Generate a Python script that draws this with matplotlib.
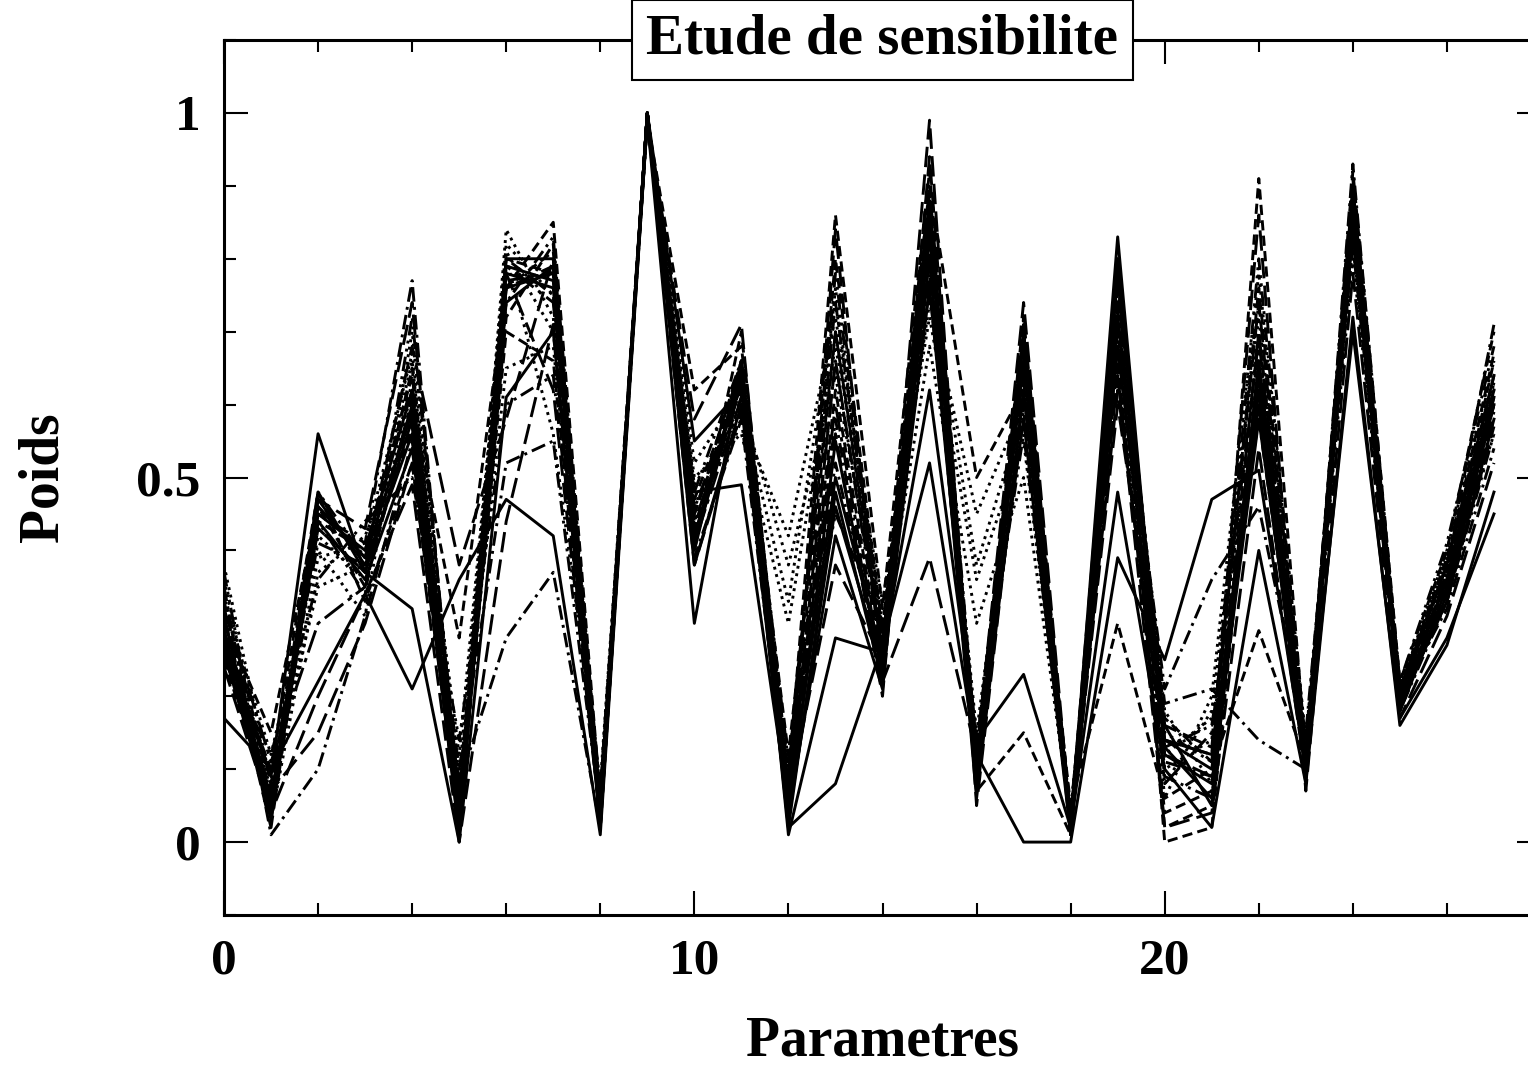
import numpy as np
import matplotlib
matplotlib.use('Agg')
import matplotlib.pyplot as plt
from matplotlib.ticker import MultipleLocator, FuncFormatter

plt.rcParams['font.family'] = ['Liberation Serif', 'DejaVu Serif']
plt.rcParams['font.weight'] = 'bold'

# parameter index 0..27
params = list(range(28))

# one run per sensitivity case (weights)
run01 = [0.29,0.05,0.48,0.37,0.58,0.02,0.80,0.80,0.04,1.00,0.40,0.66,0.03,0.46,0.24,0.84,0.09,0.70,0.01,0.78,0.14,0.10,0.64,0.10,0.88,0.19,0.36,0.62]
run02 = [0.27,0.09,0.56,0.37,0.32,0.00,0.61,0.70,0.02,1.00,0.55,0.62,0.02,0.08,0.27,0.52,0.12,0.00,0.00,0.39,0.25,0.47,0.51,0.10,0.70,0.17,0.28,0.45]
run03 = [0.17,0.10,0.22,0.34,0.21,0.36,0.47,0.42,0.01,0.99,0.30,0.65,0.01,0.28,0.26,0.62,0.14,0.23,0.02,0.48,0.10,0.02,0.40,0.08,0.72,0.16,0.27,0.48]
run04 = [0.31,0.03,0.47,0.38,0.56,0.01,0.78,0.76,0.03,1.00,0.48,0.49,0.05,0.50,0.25,0.80,0.06,0.62,0.02,0.83,0.12,0.08,0.58,0.12,0.86,0.18,0.34,0.60]
run05 = [0.28,0.06,0.45,0.40,0.62,0.03,0.76,0.78,0.05,1.00,0.42,0.64,0.04,0.42,0.21,0.86,0.08,0.66,0.03,0.72,0.16,0.05,0.66,0.11,0.90,0.20,0.38,0.64]
run06 = [0.26,0.04,0.44,0.36,0.54,0.02,0.74,0.79,0.02,1.00,0.38,0.60,0.03,0.55,0.23,0.76,0.11,0.58,0.01,0.68,0.14,0.12,0.60,0.09,0.84,0.19,0.33,0.58]
run07 = [0.38,0.08,0.35,0.38,0.66,0.04,0.84,0.72,0.05,0.99,0.46,0.58,0.42,0.72,0.30,0.74,0.45,0.60,0.04,0.66,0.08,0.18,0.72,0.13,0.87,0.21,0.40,0.66]
run08 = [0.33,0.12,0.40,0.31,0.70,0.06,0.82,0.75,0.06,1.00,0.50,0.56,0.30,0.68,0.33,0.72,0.36,0.55,0.03,0.70,0.10,0.14,0.68,0.12,0.82,0.22,0.37,0.60]
run09 = [0.30,0.03,0.37,0.42,0.58,0.08,0.65,0.68,0.04,1.00,0.52,0.62,0.10,0.76,0.26,0.80,0.15,0.64,0.02,0.74,0.06,0.20,0.78,0.14,0.86,0.19,0.36,0.63]
run10 = [0.36,0.06,0.42,0.36,0.62,0.12,0.80,0.56,0.08,0.99,0.44,0.60,0.38,0.64,0.28,0.68,0.30,0.50,0.03,0.76,0.18,0.08,0.62,0.11,0.80,0.20,0.35,0.56]
run11 = [0.30,0.15,0.46,0.35,0.60,0.28,0.76,0.85,0.06,0.99,0.62,0.68,0.09,0.86,0.32,0.92,0.10,0.72,0.02,0.66,0.04,0.07,0.91,0.12,0.91,0.18,0.37,0.66]
run12 = [0.27,0.10,0.48,0.33,0.52,0.04,0.70,0.66,0.03,1.00,0.40,0.70,0.07,0.80,0.29,0.90,0.50,0.62,0.05,0.30,0.06,0.10,0.29,0.11,0.85,0.21,0.39,0.61]
run13 = [0.25,0.05,0.43,0.37,0.57,0.02,0.72,0.82,0.02,1.00,0.43,0.66,0.05,0.62,0.24,0.82,0.07,0.15,0.01,0.72,0.02,0.05,0.70,0.10,0.89,0.18,0.35,0.62]
run14 = [0.33,0.08,0.44,0.40,0.64,0.06,0.80,0.78,0.04,1.00,0.47,0.64,0.12,0.70,0.27,0.88,0.09,0.70,0.02,0.78,0.00,0.02,0.66,0.08,0.92,0.22,0.40,0.70]
run15 = [0.24,0.04,0.20,0.34,0.49,0.00,0.44,0.71,0.03,1.00,0.41,0.63,0.06,0.38,0.25,0.99,0.05,0.62,0.01,0.64,0.02,0.04,0.54,0.09,0.85,0.20,0.33,0.57]
run16 = [0.29,0.02,0.46,0.39,0.68,0.38,0.58,0.80,0.04,0.99,0.58,0.71,0.04,0.84,0.22,0.39,0.12,0.74,0.03,0.80,0.14,0.12,0.86,0.07,0.78,0.17,0.31,0.52]
run17 = [0.26,0.07,0.15,0.30,0.52,0.03,0.76,0.79,0.05,1.00,0.38,0.59,0.08,0.56,0.20,0.94,0.08,0.67,0.02,0.60,0.16,0.13,0.74,0.10,0.86,0.19,0.34,0.59]
run18 = [0.31,0.05,0.47,0.43,0.74,0.05,0.78,0.62,0.03,1.00,0.45,0.66,0.06,0.66,0.26,0.83,0.13,0.69,0.02,0.62,0.12,0.09,0.64,0.11,0.88,0.21,0.36,0.64]
run19 = [0.35,0.01,0.10,0.31,0.55,0.08,0.28,0.37,0.02,0.99,0.39,0.58,0.05,0.58,0.22,0.85,0.11,0.63,0.03,0.70,0.21,0.36,0.46,0.15,0.84,0.20,0.32,0.54]
run20 = [0.28,0.06,0.45,0.41,0.77,0.02,0.80,0.75,0.07,1.00,0.44,0.61,0.09,0.74,0.28,0.88,0.10,0.66,0.04,0.73,0.19,0.21,0.14,0.10,0.93,0.21,0.38,0.71]
run21 = [0.29,0.09,0.41,0.38,0.60,0.10,0.52,0.55,0.04,1.00,0.46,0.62,0.07,0.52,0.24,0.78,0.09,0.60,0.02,0.68,0.13,0.16,0.58,0.12,0.82,0.19,0.35,0.58]
run22 = [0.37,0.03,0.44,0.34,0.72,0.06,0.74,0.83,0.05,1.00,0.42,0.63,0.08,0.78,0.27,0.90,0.12,0.71,0.02,0.76,0.15,0.11,0.80,0.13,0.89,0.22,0.41,0.68]
run23 = [0.25,0.12,0.36,0.44,0.50,0.14,0.60,0.64,0.06,0.99,0.48,0.66,0.11,0.45,0.30,0.76,0.14,0.56,0.03,0.64,0.09,0.06,0.62,0.09,0.83,0.18,0.33,0.56]
run24 = [0.32,0.07,0.48,0.39,0.63,0.03,0.77,0.78,0.04,1.00,0.43,0.64,0.06,0.66,0.25,0.86,0.08,0.68,0.02,0.74,0.11,0.09,0.70,0.10,0.87,0.20,0.37,0.63]
run25 = [0.27,0.04,0.46,0.39,0.59,0.01,0.79,0.77,0.03,1.00,0.41,0.65,0.02,0.48,0.22,0.87,0.07,0.69,0.01,0.80,0.13,0.06,0.62,0.09,0.89,0.18,0.35,0.61]
run26 = [0.30,0.06,0.43,0.37,0.65,0.04,0.76,0.81,0.05,1.00,0.45,0.63,0.07,0.70,0.26,0.89,0.10,0.71,0.02,0.77,0.17,0.11,0.76,0.12,0.90,0.21,0.38,0.67]
run27 = [0.32,0.11,0.30,0.35,0.61,0.07,0.79,0.74,0.04,0.99,0.41,0.61,0.06,0.60,0.23,0.81,0.10,0.65,0.03,0.71,0.08,0.15,0.69,0.11,0.85,0.20,0.36,0.60]
run28 = [0.34,0.05,0.39,0.41,0.67,0.09,0.81,0.70,0.07,0.99,0.49,0.59,0.33,0.74,0.29,0.77,0.38,0.59,0.04,0.72,0.12,0.17,0.74,0.13,0.84,0.21,0.39,0.62]

runs = [run01, run02, run03, run04, run05, run06, run07, run08, run09, run10,
        run11, run12, run13, run14, run15, run16, run17, run18, run19, run20,
        run21, run22, run23, run24, run25, run26, run27, run28]

solid = '-'
dotted = (0, (1, 1.6))
dashed = (0, (3.5, 1.8))
longdash = (0, (7, 2.5))
dashdot = (0, (5, 1.8, 1, 1.8))
dashdotdot = (0, (5, 1.8, 1, 1.8, 1, 1.8))
longdashdot = (0, (8, 2, 1.5, 2))
styles = ([solid]*6 + [dotted]*4 + [dashed]*4 + [longdash]*4 + [dashdot]*3
          + [dashdotdot]*3 + [solid, dashed, longdashdot, dotted])

fig = plt.figure(figsize=(15.28, 10.70), dpi=100)
ax = fig.add_axes([224/1528, 155/1070, 1317/1528, 875/1070])

for r, ls in zip(runs, styles):
    ax.plot(params, r, color='black', lw=2.1, linestyle=ls)

ax.set_xlim(0, 28)
ax.set_ylim(-0.1, 1.1)
ax.xaxis.set_major_locator(MultipleLocator(10))
ax.xaxis.set_minor_locator(MultipleLocator(2))
ax.yaxis.set_major_locator(MultipleLocator(0.5))
ax.yaxis.set_minor_locator(MultipleLocator(0.1))
ax.yaxis.set_major_formatter(FuncFormatter(lambda v, p: '%g' % v))
ax.tick_params(which='both', direction='in', top=True, right=True, width=1.5, labelsize=37)
ax.tick_params(which='major', length=17, pad=17)
ax.tick_params(which='minor', length=8.5)
for sp in ax.spines.values():
    sp.set_linewidth(2.2)

ax.set_xlabel('Parametres', fontsize=40, fontweight='bold')
ax.set_ylabel('Poids', fontsize=40, fontweight='bold')
ax.xaxis.set_label_coords(0.5, -0.115)
ax.yaxis.set_label_coords(-0.117, 0.5)

ax.text(0.5, 1.0, 'Etude de sensibilite', transform=ax.transAxes, ha='center', va='center',
        fontsize=41, fontweight='bold', zorder=10,
        bbox=dict(boxstyle='square,pad=0.25', fc='white', ec='black', lw=1.5))

fig.savefig('out.png', dpi=100)
